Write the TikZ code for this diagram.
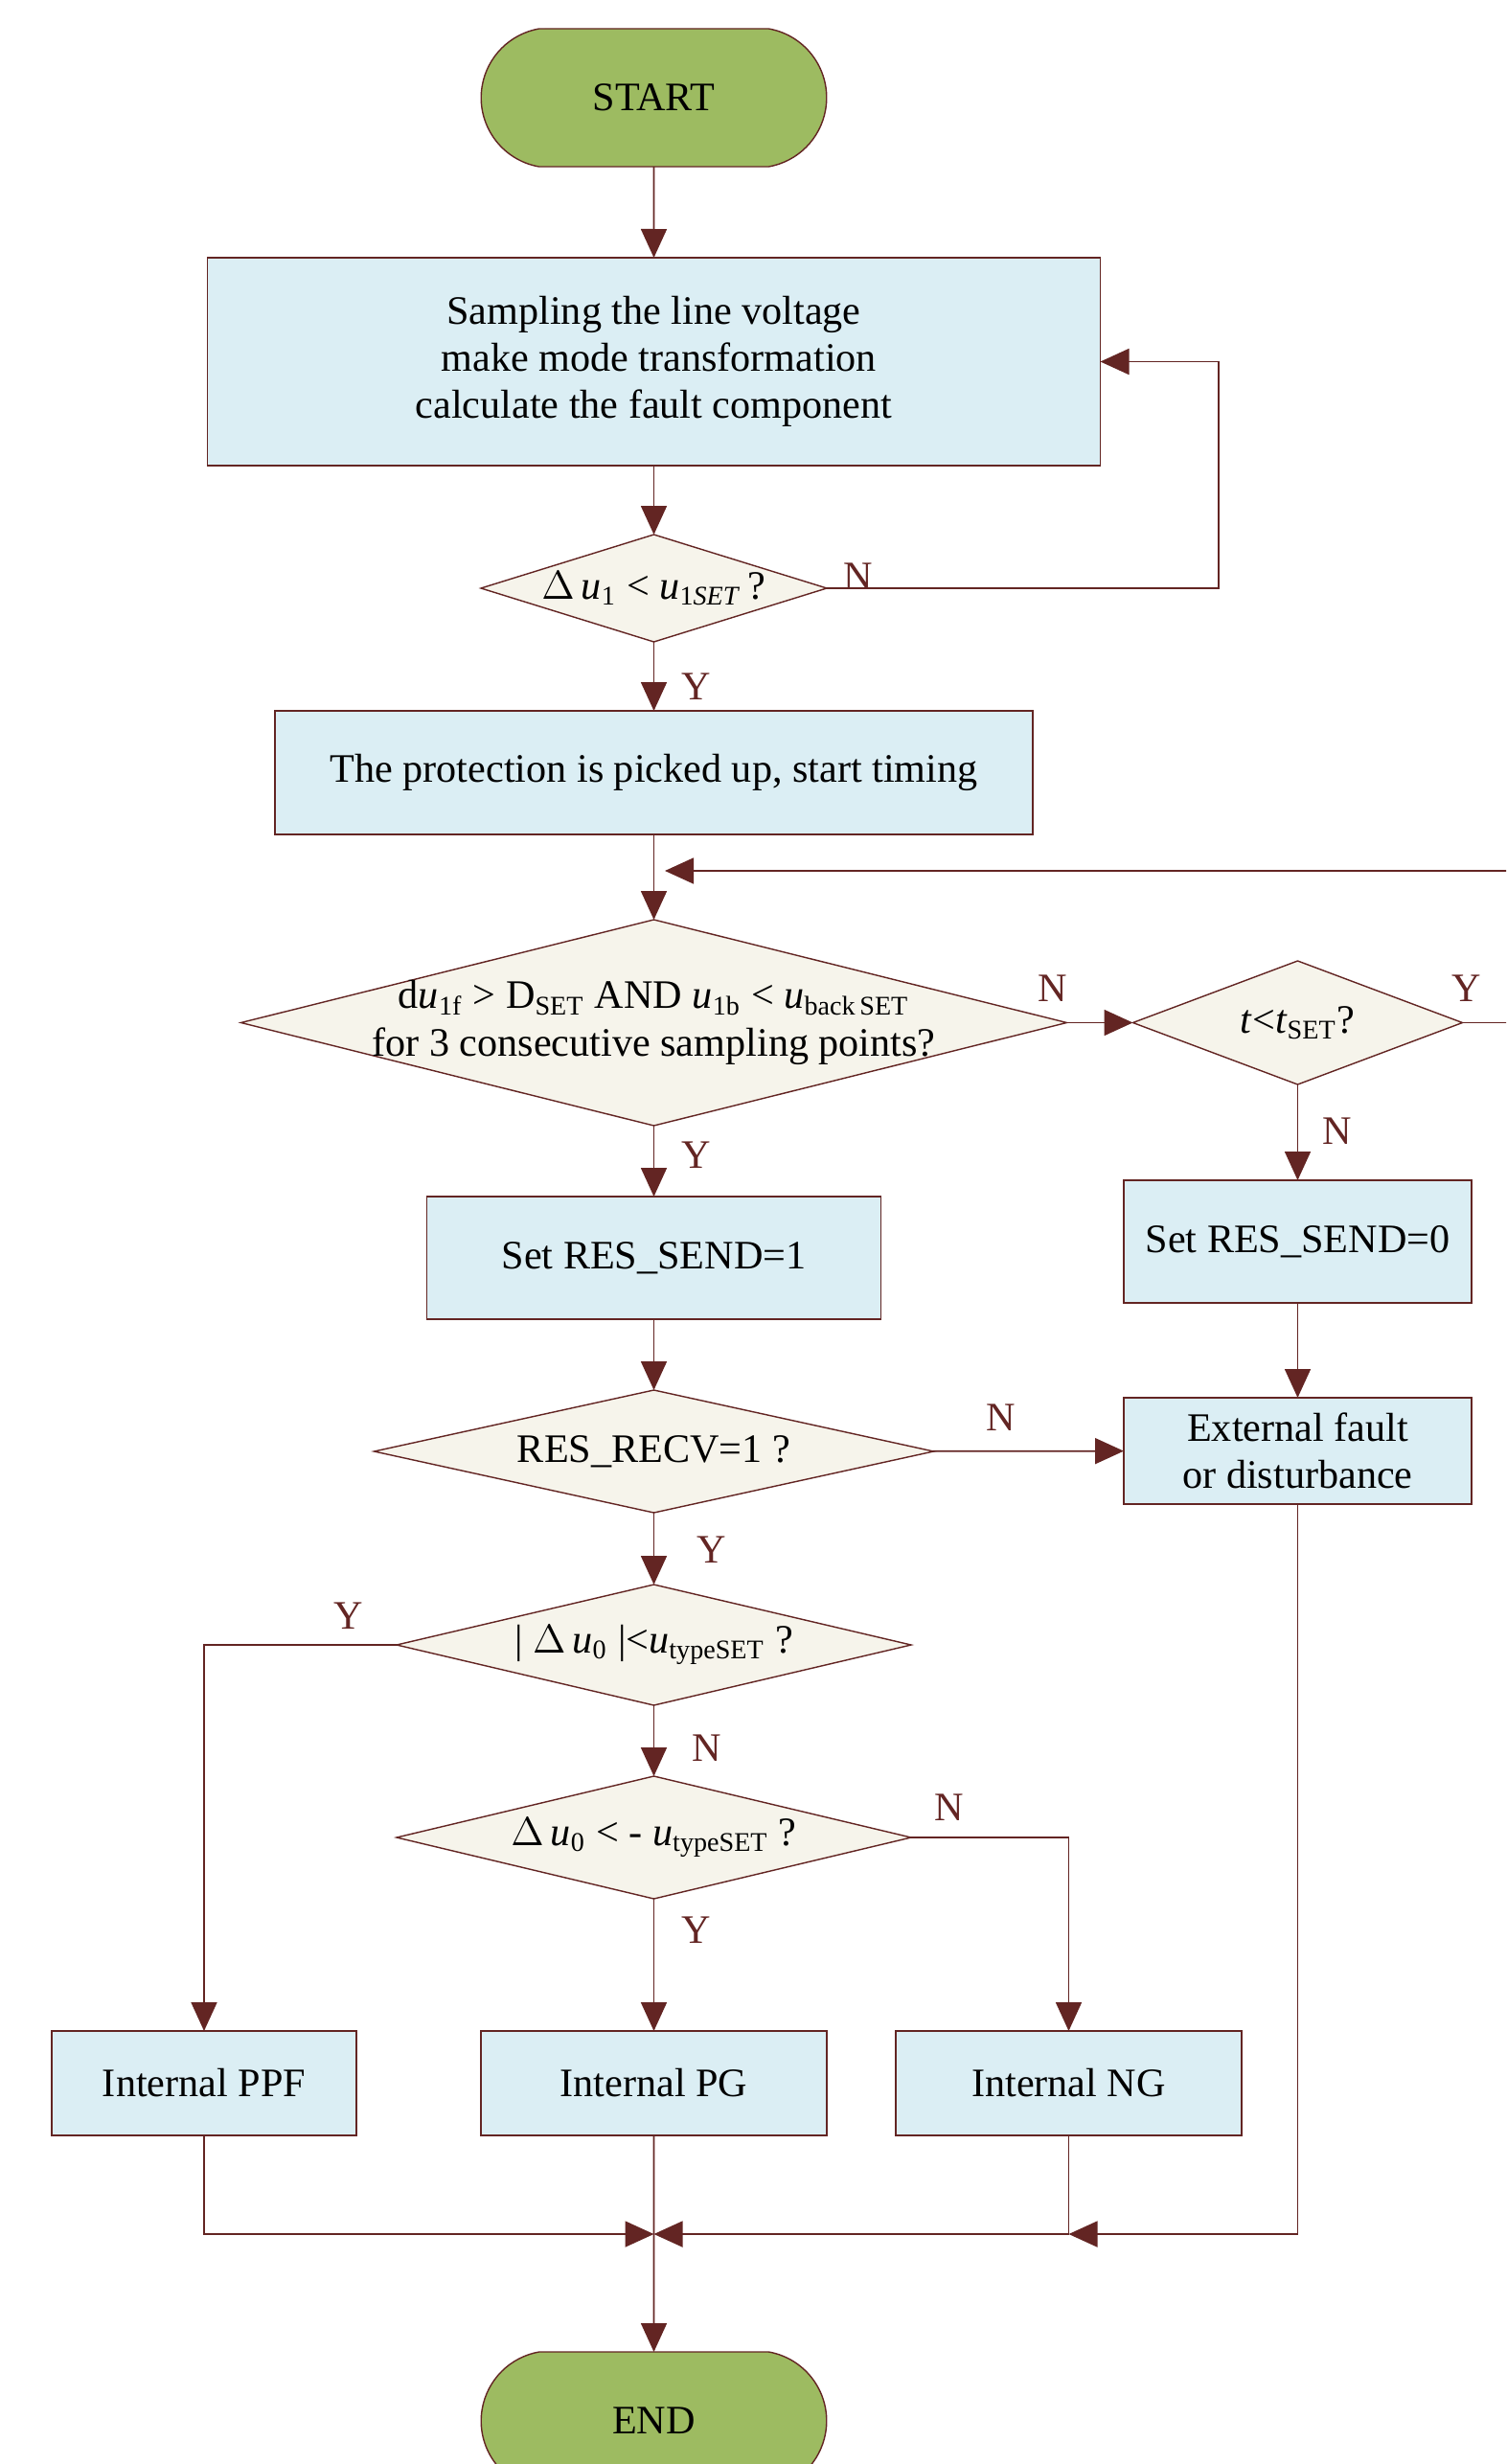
\documentclass[tikz,border=0pt]{standalone}
\usepackage{fontspec}
\setmainfont{Liberation Serif}
\usepackage{tikz}
\usetikzlibrary{positioning}
\usetikzlibrary{arrows.meta,shapes.geometric,shapes.misc}

\definecolor{linered}{RGB}{99,37,35}
\definecolor{boxblue}{RGB}{219,238,244}
\definecolor{askfill}{RGB}{246,244,235}
\definecolor{termgreen}{RGB}{157,187,97}

\begin{document}
\begin{tikzpicture}[font=\fontsize{12}{14}\selectfont,every node/.style={outer sep=0pt},
    term node/.style={rounded rectangle,rounded rectangle arc length=160,draw=linered,fill=termgreen,minimum width=3.84cm,minimum height=1.44cm},
    proc node/.style={rectangle,draw=linered,fill=boxblue,align=center},
    ask node/.style={diamond,draw=linered,fill=askfill,inner sep=-3pt,align=center},
    yn/.style={text=linered,inner sep=0pt},
    arr/.style={draw=linered,line width=0.5pt,-{Triangle[length=0.3cm,width=0.27cm]}}]

    \useasboundingbox (0,0) rectangle (15.72,-25.72);
    \clip (0,0) rectangle (15.72,-25.72);

		\node[term node](start) at (6.825,-1.02){START};
		\node[proc node,minimum width=9.32cm,minimum height=2.17cm](sample)[below=0.95 of start]{Sampling the line voltage\\ \ make mode transformation\\calculate the fault component};
		\node[ask node,minimum width=3.61cm,minimum height=1.12cm,aspect=3.2](ask1)[below=0.72 of sample]{$\Delta$\,\textit{u}\textsubscript{1} < \textit{u}\textsubscript{1\textit{SET}}\,?};
		\node[proc node,minimum width=7.91cm,minimum height=1.29cm](pick)[below=0.72 of ask1]{The protection is picked up, start timing};
		\node[ask node,minimum width=8.62cm,minimum height=2.15cm,aspect=4](ask2)[below=0.89 of pick]{d\textit{u}\textsubscript{1f} > D\textsubscript{SET} AND \textit{u}\textsubscript{1b} < \textit{u}\textsubscript{back\,SET}\\for 3 consecutive sampling points?};
		\node[ask node,minimum width=3.44cm,minimum height=1.29cm,aspect=2.67](ask3)[right=0.69 of ask2]{\textit{t}<\textit{t}\textsubscript{SET}?};
		\node[proc node,minimum width=3.63cm,minimum height=1.28cm](send0)[below=1.0 of ask3]{Set RES\_SEND=0};
		\node[proc node,minimum width=3.63cm,minimum height=1.11cm](ext)[below=0.99 of send0]{External fault\\or disturbance};
		\node[proc node,minimum width=4.74cm,minimum height=1.28cm](send1)[below=0.74 of ask2]{Set RES\_SEND=1};
		\node[ask node,minimum width=5.84cm,minimum height=1.28cm,aspect=4.56](ask4)[below=0.74 of send1]{RES\_RECV=1 ?};
		\node[ask node,minimum width=5.37cm,minimum height=1.26cm,aspect=4.26](ask5)[below=0.75 of ask4]{| $\Delta$\,\textit{u}\textsubscript{0} |<\textit{u}\textsubscript{typeSET} ?};
		\node[ask node,minimum width=5.37cm,minimum height=1.28cm,aspect=4.2](ask6)[below=0.74 of ask5]{$\Delta$\,\textit{u}\textsubscript{0} < - \textit{u}\textsubscript{typeSET} ?};
		\node[proc node,minimum width=3.61cm,minimum height=1.09cm](pg)[below=1.38 of ask6]{Internal PG};
		\node[proc node,minimum width=3.18cm,minimum height=1.09cm](ppf)[left=1.30 of pg]{Internal PPF};
		\node[proc node,minimum width=3.61cm,minimum height=1.09cm](ng)[right=0.72 of pg]{Internal NG};
		\node[term node](end)[below=2.26 of pg]{END};
		\coordinate[below=1.03 of pg](merge);
		\coordinate(back) at (6.94,-9.09);

		\node[yn](n1) at (8.96,-6.02){N};
		\node[yn](y1) at (7.27,-7.17){Y};
		\node[yn](n2) at (10.99,-10.32){N};
		\node[yn](y3) at (15.31,-10.32){Y};
		\node[yn](n3) at (13.96,-11.81){N};
		\node[yn](y2) at (7.27,-12.06){Y};
		\node[yn](n4) at (10.45,-14.80){N};
		\node[yn](y4) at (7.43,-16.18){Y};
		\node[yn](y5) at (3.64,-16.87){Y};
		\node[yn](n5) at (7.38,-18.25){N};
		\node[yn](n6) at (9.91,-18.87){N};
		\node[yn](y6) at (7.27,-20.15){Y};

		\path (start) edge[arr] (sample);
		\path (sample) edge[arr] (ask1);
		\draw[arr] (ask1.east) -- ++(4.09,0) |- (sample.east);
		\path (ask1) edge[arr] (pick);
		\path (pick) edge[arr] (ask2);
		\draw[arr] (ask3.east) -- ++(0.8,0) |- (back);
		\path (ask2) edge[arr] (ask3);
		\path (ask3) edge[arr] (send0);
		\path (send0) edge[arr] (ext);
		\path (ask2) edge[arr] (send1);
		\path (send1) edge[arr] (ask4);
		\path (ask4) edge[arr] (ext);
		\path (ask4) edge[arr] (ask5);
		\draw[arr] (ask5.west) -| (ppf.north);
		\path (ask5) edge[arr] (ask6);
		\draw[arr] (ask6.east) -| (ng.north);
		\path (ask6) edge[arr] (pg);
		\draw[arr] (ppf.south) |- (merge);
		\draw[arr] (ng.south) |- (merge);
		\draw[arr] (ext.south) |- (ng.south |- merge);
		\path (pg) edge[arr] (end);

	\end{tikzpicture}
\end{document}
